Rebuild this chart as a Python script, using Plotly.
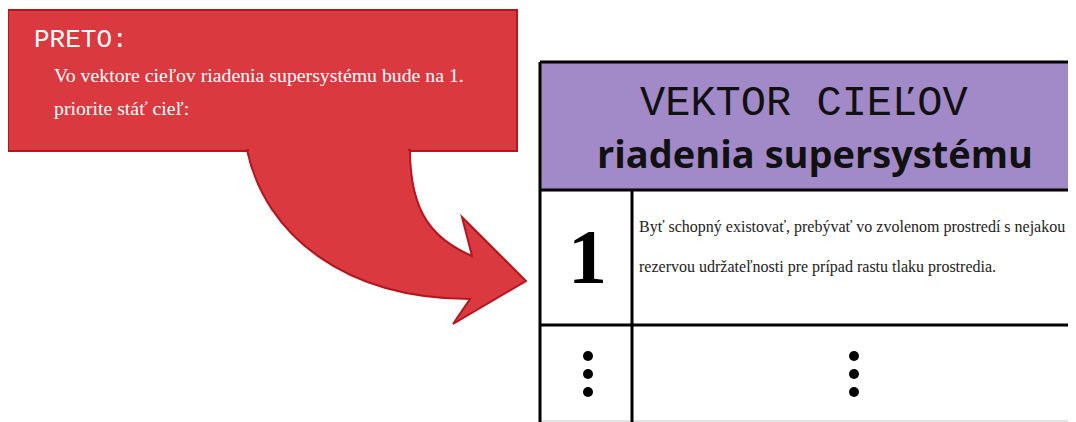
import plotly.graph_objects as go

# ---- content (text) ----
callout_title = "PRETO:"
callout_lines = ["Vo vektore cieľov riadenia supersystému bude na 1.",
                 "priorite stáť cieľ:"]
header_lines = ["VEKTOR CIEĽOV", "riadenia supersystému"]
row_numbers = ["1"]
row_texts = [["Byť schopný existovať, prebývať vo zvolenom prostredí s nejakou",
              "rezervou udržateľnosti pre prípad rastu tlaku prostredia."]]

W, H = 1076, 422
OFF = 8  # page body margin compensation
RED = "rgb(217,57,63)"
RED_EDGE = "rgb(180,22,30)"
LAV = "rgb(162,137,200)"

fig = go.Figure()

shapes = []
# red callout box
shapes.append(dict(type="rect", x0=8, x1=517, y0=10, y1=151,
                   fillcolor=RED, line=dict(color=RED_EDGE, width=2), layer="below"))
# curved arrow
arrow_path = ("M 247,150 C 265,235 345,299 470,299 "
              "L 453,324 L 526,281 L 462,217 L 472,256 "
              "C 435,240 410,215 410,150 Z")
shapes.append(dict(type="path", path=arrow_path, fillcolor=RED,
                   line=dict(color=RED_EDGE, width=2), layer="below"))
# cover the seam between box and arrow
shapes.append(dict(type="rect", x0=249, x1=408, y0=147, y1=153,
                   fillcolor=RED, line=dict(width=0), layer="below"))

# table
TL, TR, TT = 540, 1090, 62
HB, R1B, COL, TB = 190, 325, 632, 440
shapes.append(dict(type="rect", x0=TL, x1=TR, y0=TT, y1=HB, fillcolor=LAV,
                   line=dict(width=0), layer="below"))
shapes.append(dict(type="line", x0=TL, y0=421, x1=TR, y1=421,
                   line=dict(color="rgb(200,200,200)", width=1)))
lw = 3
for (x0, y0, x1, y1) in [(TL, TT, TR, TT), (TL, TT, TL, TB), (TL, HB, TR, HB),
                         (TL, R1B, TR, R1B), (COL, HB, COL, TB)]:
    shapes.append(dict(type="line", x0=x0, y0=y0, x1=x1, y1=y1,
                       line=dict(color="black", width=lw)))

fig.update_layout(shapes=shapes)

ann = []
ann.append(dict(x=32, y=40, text=callout_title, showarrow=False, xanchor="left",
                yanchor="middle", font=dict(family="Liberation Mono", size=26, color="white")))
for i, t in enumerate(callout_lines):
    ann.append(dict(x=52, y=75 + i * 33, text=t, showarrow=False, xanchor="left",
                    yanchor="middle", font=dict(family="Liberation Serif", size=19.8, color="white")))
ann.append(dict(x=804, y=104, text=header_lines[0], showarrow=False, xanchor="center",
                yanchor="middle", font=dict(family="Liberation Mono", size=42, color="#111")))
ann.append(dict(x=815, y=153, text="<b>" + header_lines[1] + "</b>", showarrow=False,
                xanchor="center", yanchor="middle",
                font=dict(family="Open Sans", size=38, color="#111")))
ann.append(dict(x=587, y=256, text="<b>" + row_numbers[0] + "</b>", showarrow=False,
                xanchor="center", yanchor="middle",
                font=dict(family="Liberation Serif", size=78, color="black")))
for i, t in enumerate(row_texts[0]):
    ann.append(dict(x=637, y=227 + i * 40, text=t, showarrow=False, xanchor="left",
                    yanchor="middle", font=dict(family="Liberation Serif", size=16, color="#222")))
fig.update_layout(annotations=ann)

# vertical ellipsis dots in the continuation row
dot_x = [588, 588, 588, 854, 854, 854]
dot_y = [356, 374, 392, 356, 374, 392]
fig.add_trace(go.Scatter(x=dot_x, y=dot_y, mode="markers",
                         marker=dict(size=10, color="black"), hoverinfo="skip"))

fig.update_xaxes(range=[OFF, W + OFF], visible=False, fixedrange=True)
fig.update_yaxes(range=[H + OFF, OFF], visible=False, fixedrange=True)
fig.update_layout(width=W, height=H, margin=dict(l=0, r=0, t=0, b=0),
                  plot_bgcolor="white", paper_bgcolor="white", showlegend=False)

fig.write_html("out.html")
